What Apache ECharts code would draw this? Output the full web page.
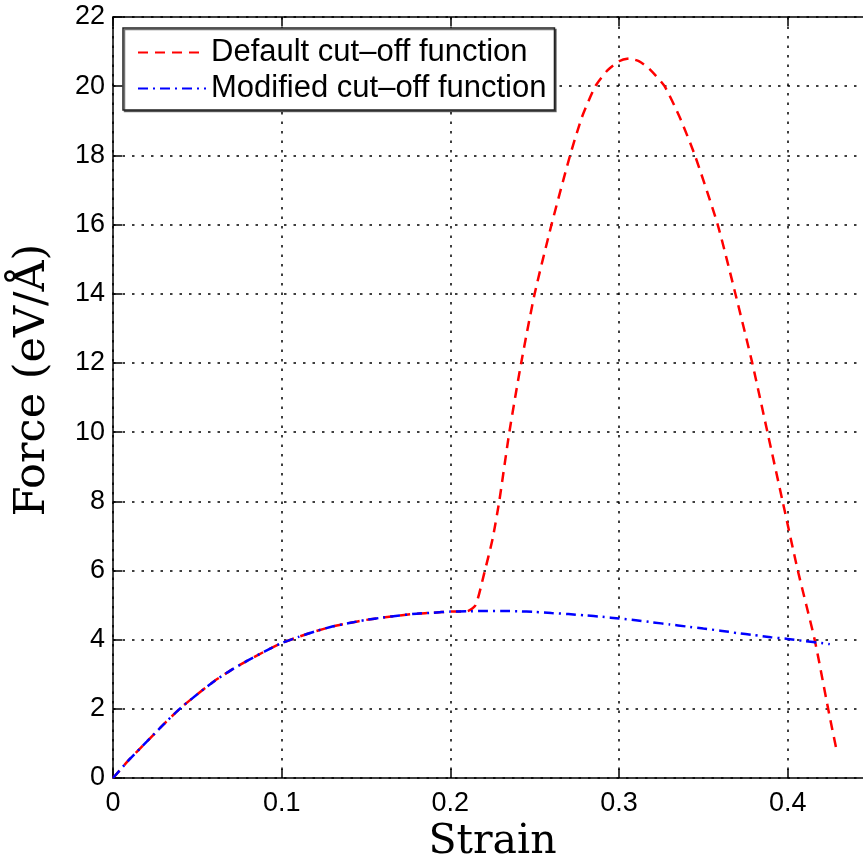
<!DOCTYPE html>
<html>
<head>
<meta charset="utf-8">
<script src="https://cdn.jsdelivr.net/npm/echarts@6/dist/echarts.min.js"></script>
<style>
  html, body { margin: 0; padding: 0; background: #fff; }
  #chart { width: 863px; height: 859px; }
</style>
</head>
<body>
<div id="chart"></div>
<script>
// strain vs force
const defaultStrain = [0, 0.01, 0.02, 0.03, 0.04, 0.05, 0.06, 0.07, 0.08, 0.09, 0.10,
  0.11, 0.12, 0.13, 0.14, 0.15, 0.16, 0.17, 0.18, 0.19, 0.20, 0.21, 0.215, 0.22, 0.225,
  0.229, 0.235, 0.242, 0.25, 0.26, 0.271, 0.278, 0.286, 0.293, 0.30, 0.306, 0.312, 0.318,
  0.327, 0.336, 0.345, 0.3585, 0.369, 0.379, 0.388, 0.397, 0.406, 0.416, 0.424, 0.429];
const defaultForce = [0, 0.55, 1.05, 1.55, 2.02, 2.42, 2.8, 3.12, 3.4, 3.66, 3.9,
  4.08, 4.24, 4.38, 4.48, 4.57, 4.64, 4.7, 4.75, 4.78, 4.81, 4.82, 5.0, 5.9, 6.9,
  8, 10, 12, 14, 16, 18, 19.1, 20, 20.45, 20.72, 20.8, 20.72, 20.5,
  20, 19.1, 18, 16, 14, 12, 10, 8, 6, 4, 2, 0.8];

const modifiedStrain = [0, 0.01, 0.02, 0.03, 0.04, 0.05, 0.06, 0.07, 0.08, 0.09, 0.10,
  0.11, 0.12, 0.13, 0.14, 0.15, 0.16, 0.17, 0.18, 0.19, 0.20, 0.21, 0.22, 0.23, 0.24,
  0.25, 0.26, 0.27, 0.28, 0.29, 0.30, 0.31, 0.32, 0.33, 0.34, 0.35, 0.36, 0.37, 0.38,
  0.39, 0.40, 0.41, 0.42, 0.425];
const modifiedForce = [0, 0.55, 1.05, 1.55, 2.02, 2.42, 2.8, 3.12, 3.4, 3.66, 3.9,
  4.08, 4.24, 4.38, 4.48, 4.57, 4.64, 4.7, 4.75, 4.78, 4.81, 4.82, 4.83, 4.83, 4.82,
  4.8, 4.77, 4.74, 4.7, 4.66, 4.61, 4.56, 4.5, 4.44, 4.38, 4.32, 4.26, 4.19, 4.13,
  4.07, 4.02, 3.96, 3.9, 3.87];

const seriesNames = ['Default cut\u2013off function', 'Modified cut\u2013off function'];
const xLabel = 'Strain';
const yLabel = 'Force (eV/\u00C5)';

const pair = (xs, ys) => xs.map((x, i) => [x, ys[i]]);

const chart = echarts.init(document.getElementById('chart'));

const axisLine = { show: true, lineStyle: { color: '#000', width: 1.5 } };
const tick = { show: true, inside: true, length: 9, lineStyle: { color: '#000', width: 1.5 } };
const grid = { show: true, lineStyle: { color: '#000', width: 1.5, type: [2.5, 7] } };
const tickFont = { color: '#000', fontSize: 27, fontFamily: 'Liberation Sans, Arial, sans-serif' };

const xFmt = v => {
  const r = Math.round(v * 10);
  return Math.abs(v * 10 - r) < 1e-6 ? String(r / 10) : '';
};

chart.setOption({
  animation: false,
  backgroundColor: '#fff',
  grid: { left: 113, top: 17, width: 759, height: 761, outerBoundsMode: 'none', containLabel: false },
  legend: {
    orient: 'vertical',
    left: 123,
    top: 28,
    padding: [9, 8, 6, 14],
    itemWidth: 68,
    itemHeight: 14,
    itemGap: 5,
    borderColor: '#222',
    borderWidth: 1.5,
    backgroundColor: '#fff',
    shadowColor: 'rgba(0,0,0,0.55)',
    shadowOffsetX: 1.5,
    shadowOffsetY: 1.5,
    itemStyle: { opacity: 0 },
    textStyle: { color: '#000', fontSize: 31, fontFamily: 'Liberation Sans, Arial, sans-serif' },
    data: seriesNames
  },
  xAxis: [
    {
      type: 'value', min: 0, max: 0.45, interval: 0.1,
      axisLine, axisTick: tick, splitLine: grid,
      axisLabel: Object.assign({ margin: 12, formatter: xFmt, showMaxLabel: false }, tickFont),
      name: xLabel, nameLocation: 'middle', nameGap: 40,
      nameTextStyle: { color: '#000', fontSize: 41, fontFamily: 'DejaVu Serif, serif' }
    },
    {
      type: 'value', position: 'top', min: 0, max: 0.45, interval: 0.1,
      axisLine, axisTick: tick, splitLine: { show: false }, axisLabel: { show: false }
    }
  ],
  yAxis: [
    {
      type: 'value', min: 0, max: 22, interval: 2,
      axisLine, axisTick: tick, splitLine: grid,
      axisLabel: Object.assign({ margin: 8 }, tickFont)
    }
  ],
  graphic: [
    {
      type: 'text', x: 33, y: 380, rotation: Math.PI / 2,
      style: {
        text: yLabel, fill: '#000', font: '43px "DejaVu Serif", serif',
        textAlign: 'center', textVerticalAlign: 'middle'
      }
    }
  ],
  series: [
    {
      name: seriesNames[0], type: 'line', symbol: 'none', smooth: 0.2,
      lineStyle: { color: '#ff0000', width: 2.5, type: [10, 7] },
      itemStyle: { color: '#ff0000' },
      data: pair(defaultStrain, defaultForce)
    },
    {
      name: seriesNames[1], type: 'line', symbol: 'none', smooth: 0.2,
      lineStyle: { color: '#0000ff', width: 2.5, type: [10, 5, 2, 5] },
      itemStyle: { color: '#0000ff' },
      data: pair(modifiedStrain, modifiedForce)
    }
  ]
});
</script>
</body>
</html>
